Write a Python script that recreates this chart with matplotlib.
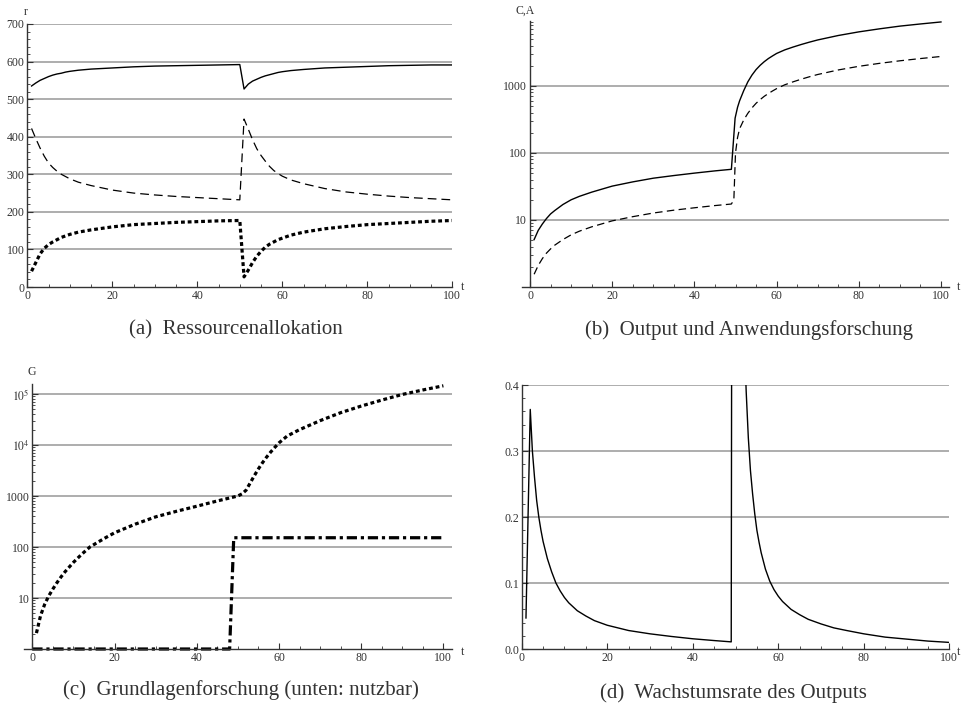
import numpy as np
import matplotlib
matplotlib.use("Agg")
from matplotlib import pyplot as plt
from matplotlib.ticker import FixedLocator, FixedFormatter, MultipleLocator, NullFormatter

plt.rcParams['font.family'] = ['Liberation Serif', 'DejaVu Serif']
plt.rcParams['mathtext.fontset'] = 'stix'

# (a) resource allocation
t_a = [1, 2, 3, 4, 5, 6, 7, 8, 9, 10, 12, 15, 20, 25, 30, 35, 40, 45, 50,
       51, 52, 53, 54, 55, 56, 57, 58, 59, 60, 62, 65, 70, 75, 80, 85, 90, 95, 100]
r_solid = [535, 543, 550, 555, 560, 564, 567, 569, 572, 574, 577, 580, 583, 586, 588, 589, 590, 591, 592,
           527, 540, 548, 553, 558, 562, 565, 568, 571, 573, 576, 579, 583, 585, 587, 589, 590, 591, 591]
r_dashed = [422, 395, 370, 348, 330, 318, 308, 300, 294, 288, 279, 270, 258, 250, 245, 241, 238, 235, 232,
            447, 420, 392, 368, 350, 335, 321, 310, 302, 295, 285, 275, 262, 253, 247, 242, 238, 235, 232]
r_dotted = [42, 65, 88, 103, 113, 120, 126, 132, 136, 140, 146, 152, 160, 166, 169, 172, 174, 176, 177,
            27, 45, 65, 82, 95, 106, 114, 120, 126, 130, 138, 146, 155, 161, 166, 169, 172, 175, 177]

# (b) output C and applied research A
t_c = [1, 2, 3, 4, 5, 6, 8, 10, 12, 15, 20, 25, 30, 35, 40, 45, 49, 49.9, 50.5,
       51, 52, 53, 54, 55, 56, 57, 58, 59, 60, 62, 64, 66, 68, 70, 75, 80, 85, 90, 95, 100]
c_vals = [5.1, 7.0, 8.7, 10.5, 12.3, 13.8, 17, 20, 22.5, 26, 32, 37, 42, 46, 50, 54, 57, 330, 480,
          600, 850, 1150, 1450, 1750, 2030, 2300, 2560, 2800, 3050, 3450, 3800, 4150, 4500, 4850,
          5650, 6400, 7100, 7800, 8400, 9000]
t_ca = [1, 2, 3, 4, 5, 6, 8, 10, 12, 15, 20, 25, 30, 35, 40, 45, 49, 49.6, 50, 50.5,
        51, 52, 53, 54, 55, 56, 57, 58, 59, 60, 62, 64, 66, 68, 70, 75, 80, 85, 90, 95, 100]
a_vals = [1.55, 2.1, 2.65, 3.2, 3.7, 4.2, 5.1, 6.0, 6.8, 7.9, 9.7, 11.2, 12.7, 14, 15.2, 16.4, 17.3, 20, 100, 170,
          230, 310, 390, 470, 550, 625, 700, 770, 840, 910, 1040, 1150, 1260, 1370, 1480,
          1730, 1960, 2170, 2370, 2560, 2750]

# (c) basic research G and usable part
t_g = [1, 2, 3, 4, 5, 6, 7, 8, 10, 12, 14, 16, 18, 20, 25, 30, 35, 40, 45, 50,
       51, 52, 53, 54, 55, 56, 57, 58, 59, 60, 62, 65, 70, 75, 80, 85, 90, 95, 100]
g_vals = [2.05, 4.5, 7.5, 11, 15, 20, 26, 33, 50, 72, 100, 125, 155, 190, 280, 390, 500, 630, 800, 1000,
          1100, 1300, 1800, 2500, 3400, 4500, 5800, 7300, 9000, 11000, 15000, 20000, 30000, 43000, 58000,
          76000, 98000, 120000, 145000]
t_gu = [0, 48, 49, 100]
gu_vals = [1, 1, 152, 152]

# (d) growth rate of output
t_w = [1, 2, 2.5, 3, 3.5, 4, 4.5, 5, 6, 7, 8, 9, 10, 11, 12, 13, 14, 15, 17, 20, 25, 30, 35, 40, 45, 49,
       50, 51, 52, 52.5, 53, 53.5, 54, 54.5, 55, 55.5, 56, 57, 58, 59, 60, 61, 62, 63, 64, 65, 67,
       70, 73, 76, 80, 85, 90, 95, 100]
w_vals = [0.047, 0.363, 0.30, 0.26, 0.225, 0.2, 0.18, 0.163, 0.137, 0.117, 0.1, 0.088, 0.078, 0.07,
          0.064, 0.058, 0.054, 0.05, 0.043, 0.036, 0.028, 0.023, 0.019, 0.0155, 0.0128, 0.0108,
          4.5, 1.0, 0.48, 0.39, 0.32, 0.27, 0.235, 0.205, 0.18, 0.162, 0.146, 0.121, 0.103, 0.09,
          0.08, 0.072, 0.066, 0.06, 0.056, 0.052, 0.045, 0.038, 0.032, 0.028, 0.023, 0.018, 0.015,
          0.012, 0.010]

W, H = 961, 707
fig = plt.figure(figsize=(W / 100, H / 100), dpi=100)
dark = '#333333'
gridc = '#a0a0a0'


def px_axes(x0, x1, ytop, ybot):
    return fig.add_axes([x0 / W, 1 - ybot / H, (x1 - x0) / W, (ybot - ytop) / H])


def style(ax):
    for s in ['top', 'right']:
        ax.spines[s].set_visible(False)
    for s in ['left', 'bottom']:
        ax.spines[s].set_color(dark)
        ax.spines[s].set_linewidth(1.0)
    ax.tick_params(which='both', direction='in', colors=dark, labelsize=8.5, pad=2)
    ax.tick_params(which='major', length=4, width=0.8)
    ax.tick_params(which='minor', length=2, width=0.6)
    ax.xaxis.set_major_locator(FixedLocator([0, 20, 40, 60, 80, 100]))
    ax.xaxis.set_minor_locator(MultipleLocator(5))
    ax.patch.set_alpha(0)


def ftext(x, y, s, **kw):
    fig.text(x / W, 1 - y / H, s, color=dark, **kw)


# (a)
ax = px_axes(27.3, 452.3, 24, 287)
style(ax)
ax.set_xlim(0, 100)
ax.set_ylim(0, 700)
ax.hlines([100, 200, 300, 400, 500, 600, 700], 0, 100, color=gridc, lw=1.2, zorder=0)
ax.plot(t_a, r_solid, color='black', lw=1.0)
ax.plot(t_a, r_dashed, color='black', lw=0.9, dashes=(7, 4))
ax.plot(t_a, r_dotted, color='black', lw=2.3, dashes=(1.2, 0.9))
ax.yaxis.set_major_locator(MultipleLocator(100))
ax.yaxis.set_minor_locator(MultipleLocator(20))
ftext(26, 12, 'r', fontsize=8.5, ha='center', va='center')
ftext(463, 287, 't', fontsize=8.5, ha='center', va='center')
ftext(236, 330, '(a)  Ressourcenallokation', fontsize=15, ha='center', va='center')

# (b)
ax = px_axes(521.8, 949.2, 21, 287)
style(ax)
ax.set_xlim(-2, 102)
ax.set_yscale('log')
ax.set_ylim(1, 9300)
ax.spines['left'].set_position(('data', 0))
ax.hlines([10, 100, 1000], 0, 102, color=gridc, lw=1.2, zorder=0)
ax.plot(t_c, c_vals, color='black', lw=1.0)
ax.plot(t_ca, a_vals, color='black', lw=0.9, dashes=(6, 3.5))
ax.yaxis.set_major_locator(FixedLocator([10, 100, 1000]))
ax.yaxis.set_major_formatter(FixedFormatter(['10', '100', '1000']))
ax.yaxis.set_minor_locator(FixedLocator([d * m for d in [1, 10, 100, 1000] for m in range(2, 10)]))
ax.yaxis.set_minor_formatter(NullFormatter())
ftext(525, 11, 'C,A', fontsize=8.5, ha='center', va='center')
ftext(959, 287, 't', fontsize=8.5, ha='center', va='center')
ftext(749, 330, '(b)  Output und Anwendungsforschung', fontsize=15, ha='center', va='center')

# (c)
ax = px_axes(24.1, 451.6, 383.6, 649)
style(ax)
ax.set_xlim(-2, 102)
ax.set_yscale('log')
ax.set_ylim(1, 1.6e5)
ax.spines['left'].set_position(('data', 0))
ax.hlines([10, 100, 1000, 1e4, 1e5], 0, 102, color=gridc, lw=1.2, zorder=0)
ax.plot(t_g, g_vals, color='black', lw=2.3, dashes=(1.2, 0.9))
ax.plot(t_gu, gu_vals, color='black', lw=2.3, dashes=(3.2, 1.2, 1, 1.2), clip_on=False)
ax.yaxis.set_major_locator(FixedLocator([10, 100, 1000, 1e4, 1e5]))
ax.yaxis.set_major_formatter(FixedFormatter(['10', '100', '1000', '$10^4$', '$10^5$']))
ax.yaxis.set_minor_locator(FixedLocator([d * m for d in [1, 10, 100, 1e3, 1e4] for m in range(2, 10)]))
ax.yaxis.set_minor_formatter(NullFormatter())
ftext(32, 372, 'G', fontsize=8.5, ha='center', va='center')
ftext(463, 652, 't', fontsize=8.5, ha='center', va='center')
ftext(241, 690, '(c)  Grundlagenforschung (unten: nutzbar)', fontsize=15, ha='center', va='center')

# (d)
ax = px_axes(521.7, 949.3, 385, 649)
style(ax)
ax.set_xlim(0, 100)
ax.set_ylim(0, 0.4)
ax.hlines([0.1, 0.2, 0.3, 0.4], 0, 100, color=gridc, lw=1.2, zorder=0)
ax.plot(t_w, w_vals, color='black', lw=1.0)
ax.yaxis.set_major_locator(FixedLocator([0, 0.1, 0.2, 0.3, 0.4]))
ax.yaxis.set_major_formatter(FixedFormatter(['0.0', '0.1', '0.2', '0.3', '0.4']))
ax.yaxis.set_minor_locator(MultipleLocator(0.02))
ftext(959, 652, 't', fontsize=8.5, ha='center', va='center')
ftext(733, 693, '(d)  Wachstumsrate des Outputs', fontsize=15, ha='center', va='center')

fig.savefig('out.png', dpi=100)
